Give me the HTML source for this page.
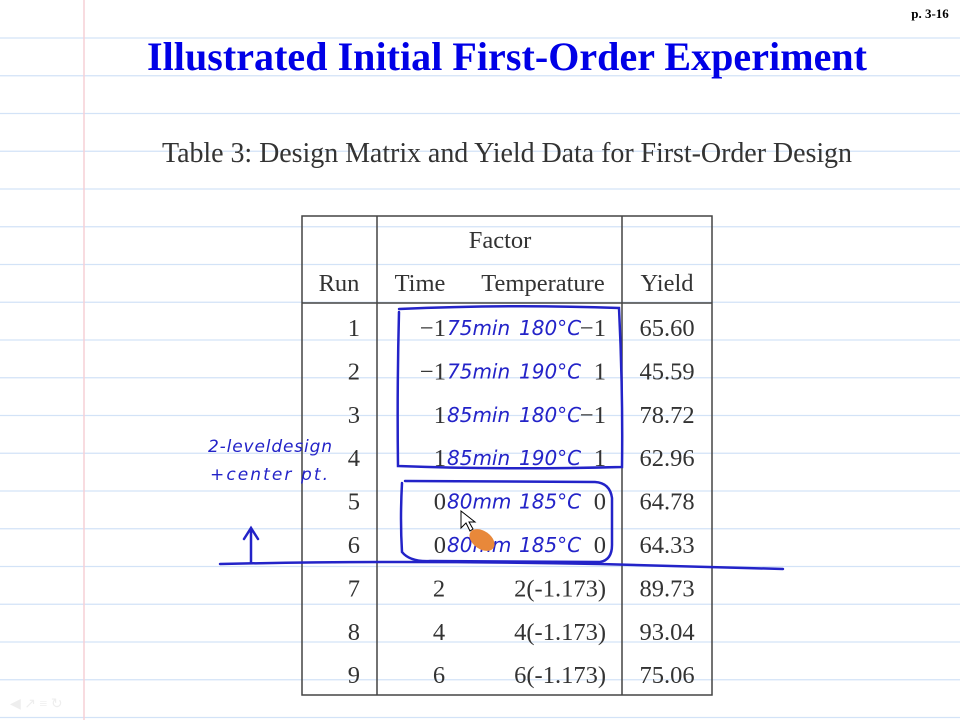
<!DOCTYPE html>
<html><head><meta charset="utf-8"><style>
html,body{margin:0;padding:0;}
body{width:960px;height:720px;position:relative;overflow:hidden;background:#fff;font-family:"Liberation Serif",serif;}
svg{position:absolute;left:0;top:0;font-family:"Liberation Serif",serif;}
</style></head><body>
<svg width="960" height="720">
<g id="rules"></g>
<line x1="84" y1="0" x2="84" y2="720" stroke="#f6d0d6" stroke-width="1.5"/>
<text x="930" y="18" font-size="13" font-weight="bold" text-anchor="middle" fill="#000">p. 3-16</text>
<text x="507" y="70" font-size="40" font-weight="bold" text-anchor="middle" fill="#0000e6" textLength="720">Illustrated Initial First-Order Experiment</text>
<text x="507" y="162" font-size="28" text-anchor="middle" fill="#333" textLength="690">Table 3: Design Matrix and Yield Data for First-Order Design</text>
<g stroke="#444" stroke-width="1.5" fill="none">
<rect x="302" y="216" width="410" height="479"/>
<line x1="377" y1="216" x2="377" y2="695"/>
<line x1="622" y1="216" x2="622" y2="695"/>
<line x1="302" y1="303" x2="712" y2="303"/>
</g>
<g font-size="24.5" fill="#333">
<text x="500" y="248" text-anchor="middle">Factor</text>
<text x="339" y="291" text-anchor="middle">Run</text>
<text x="420" y="291" text-anchor="middle">Time</text>
<text x="543" y="291" text-anchor="middle">Temperature</text>
<text x="667" y="291" text-anchor="middle">Yield</text>
</g>
<g id="rows" font-size="24.5" fill="#333"></g>
<g fill="none" stroke="#2323c8" stroke-width="2.5" stroke-linecap="round">
<path d="M399 312 Q397 390 398 466 Q500 470 622 467 Q623 390 619 308 Q510 304 399 309"/>
<path d="M402 483 Q400 520 402 552 Q410 562 430 561 L600 562 Q612 560 612 545 L612 498 Q610 483 595 482 L405 481"/>
<path d="M220 564 Q400 560 600 564 Q700 567 783 569"/>
<path d="M251 563 L251 530 M244 539 L251 528 L258 539"/>
</g>
<g font-family="'DejaVu Sans',sans-serif" font-style="italic" fill="#2323c8">
<text x="208" y="452" font-size="17" textLength="124">2-leveldesign</text>
<text x="210" y="480" font-size="17" textLength="118">+center pt.</text>
<g id="hw" font-size="20"></g>
</g>
<g>
<path d="M461 511 L461 528 L466 523 L470 531 L473 529 L469 522 L475 522 Z" fill="#fff" stroke="#000" stroke-width="1"/>
<ellipse cx="482" cy="540" rx="14" ry="9" fill="#e8883a" transform="rotate(35 482 540)"/>
</g>
<g fill="#eee"><text x="10" y="708" font-size="14">◀ ↗ ≡ ↻</text></g>
</svg>
<script>
const runs=["1","2","3","4","5","6","7","8","9"];
const times=["\u22121","\u22121","1","1","0","0","2","4","6"];
const temps=["\u22121","1","\u22121","1","0","0","2(-1.173)","4(-1.173)","6(-1.173)"];
const yields=["65.60","45.59","78.72","62.96","64.78","64.33","89.73","93.04","75.06"];
const hwTime=["75min","75min","85min","85min","80mm","80mm"];
const hwTemp=["180°C","190°C","180°C","190°C","185°C","185°C"];
const NS="http://www.w3.org/2000/svg";
const rules=document.getElementById('rules');
for(let y=38;y<720;y+=37.75){const l=document.createElementNS(NS,'line');
l.setAttribute('x1',0);l.setAttribute('x2',960);l.setAttribute('y1',y);l.setAttribute('y2',y);
l.setAttribute('stroke','#d3e3f7');l.setAttribute('stroke-width','1.2');


rules.appendChild(l);}
const rows=document.getElementById('rows');const hw=document.getElementById('hw');
function t(p,x,y,s,a){const e=document.createElementNS(NS,'text');e.setAttribute('x',x);e.setAttribute('y',y);e.setAttribute('text-anchor',a);e.textContent=s;p.appendChild(e);return e;}
runs.forEach((r,i)=>{const y=336+i*43.4;
let e=t(rows,360,y,r,'end');


e=i<6?t(rows,446,y,times[i],'end'):t(rows,439,y,times[i],'middle');


e=t(rows,606,y,temps[i],'end');


e=t(rows,667,y,yields[i],'middle');


if(i<6){e=t(hw,447,y-1,hwTime[i],'start');


e=t(hw,519,y-1,hwTemp[i],'start');

}
});
</script>
</body></html>
